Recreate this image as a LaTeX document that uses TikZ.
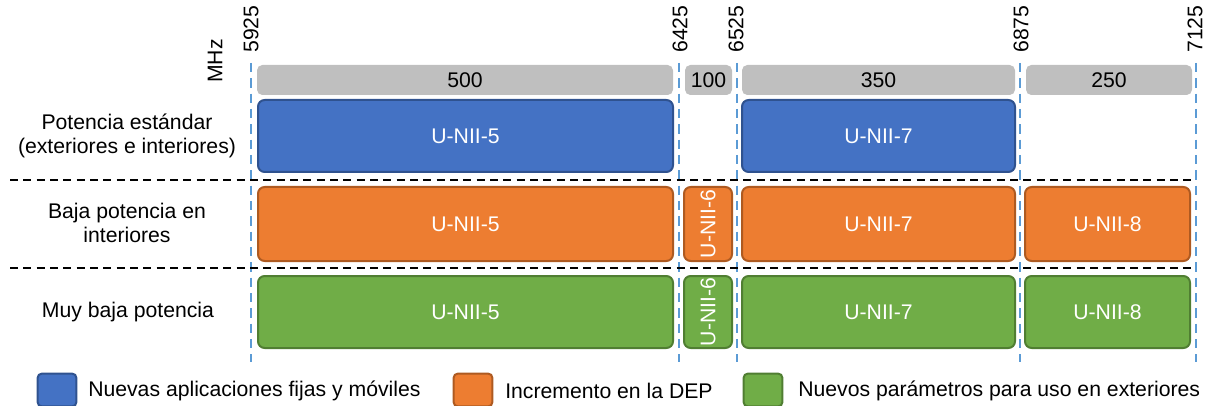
\documentclass[tikz,border=0pt]{standalone}
\usepackage{fontspec}
\setmainfont{Liberation Sans}
\definecolor{bluef}{HTML}{4472C4}
\definecolor{blued}{HTML}{2F528F}
\definecolor{orangef}{HTML}{ED7D31}
\definecolor{oranged}{HTML}{AE5A21}
\definecolor{greenf}{HTML}{70AD47}
\definecolor{greend}{HTML}{507E32}
\definecolor{grayf}{HTML}{BFBFBF}
\definecolor{vblue}{HTML}{5B9BD5}
\newcommand\mybox[7]{\node[#2, minimum width={(#5-#3)*0.75pt}, minimum height={(#6-#4)*0.75pt}] (#1) at ({(#3+#5)/2},{(#4+#6)/2}) {#7};}
\begin{document}
\begin{tikzpicture}[x=0.75pt,y=-0.75pt,
  font=\fontsize{15.9}{18}\selectfont,
  graybar/.style={fill=grayf, rounded corners=4pt, inner sep=0pt},
  cbox/.style={rounded corners=5pt, line width=1.5pt, text=white, inner sep=0pt},
  bluebox/.style={cbox, fill=bluef, draw=blued},
  orangebox/.style={cbox, fill=orangef, draw=oranged},
  greenbox/.style={cbox, fill=greenf, draw=greend},
  vline/.style={draw=vblue, line width=1.6pt, dash pattern=on 7pt off 4.5pt},
  hline/.style={draw=black, line width=1.4pt, dash pattern=on 6pt off 4pt},
  freq/.style={rotate=90, anchor=west, inner sep=0pt},
  rowlab/.style={align=center, inner sep=0pt},
  legsq/.style={rounded corners=3pt, line width=1.5pt, inner sep=0pt, minimum width=29pt, minimum height=24.5pt},
  legtext/.style={anchor=west, inner sep=0pt}
]
\useasboundingbox (0,0) rectangle (1207,406);

% vertical blue dashed lines
\foreach \n/\x in {a/251,b/679,c/737,d/1020,e/1196}{
  \coordinate (vt\n) at (\x,63);
  \coordinate (vb\n) at (\x,362);
  \draw[vline] (vt\n) -- (vb\n);
}

% horizontal separators
\coordinate (h1l) at (10,180); \coordinate (h1r) at (1195,180);
\coordinate (h2l) at (10,268); \coordinate (h2r) at (1195,268);
\draw[hline] (h1l) -- (h1r);
\draw[hline] (h2l) -- (h2r);

% frequency labels
\node[rotate=90] (mhz) at (215,61) {MHz};
\node[freq] (f5925) at (251,53) {5925};
\node[freq] (f6425) at (680,53) {6425};
\node[freq] (f6525) at (736,53) {6525};
\node[freq] (f6875) at (1021,53) {6875};
\node[freq] (f7125) at (1195,53) {7125};

% gray bandwidth bars
\mybox{g500}{graybar}{257}{65}{673}{95}{500}
\mybox{g100}{graybar}{685}{65}{732}{95}{100}
\mybox{g350}{graybar}{742}{65}{1015}{95}{350}
\mybox{g250}{graybar}{1026}{65}{1192}{95}{250}

% row 1
\mybox{r1a}{bluebox}{258}{100}{673}{172}{U-NII-5}
\mybox{r1c}{bluebox}{742}{100}{1015}{172}{U-NII-7}
% row 2
\mybox{r2a}{orangebox}{258}{187}{673}{261}{U-NII-5}
\mybox{r2b}{orangebox}{684}{187}{732}{261}{\rotatebox{90}{U-NII-6}}
\mybox{r2c}{orangebox}{742}{187}{1015}{261}{U-NII-7}
\mybox{r2d}{orangebox}{1025}{187}{1190}{261}{U-NII-8}
% row 3
\mybox{r3a}{greenbox}{258}{276}{673}{348}{U-NII-5}
\mybox{r3b}{greenbox}{684}{276}{732}{348}{\rotatebox{90}{U-NII-6}}
\mybox{r3c}{greenbox}{742}{276}{1015}{348}{U-NII-7}
\mybox{r3d}{greenbox}{1025}{276}{1190}{348}{U-NII-8}

% row labels
\node[rowlab] (l1) at (127,136) {Potencia estándar\\(exteriores e interiores)};
\node[rowlab] (l2) at (127,223) {Baja potencia en\\interiores};
\node[rowlab] (l3) at (128,312) {Muy baja potencia};

% legend
\node[legsq, fill=bluef, draw=blued] (k1) at (57,390) {};
\node[legtext] (t1) at (88,391) {Nuevas aplicaciones fijas y móviles};
\node[legsq, fill=orangef, draw=oranged] (k2) at (473,390) {};
\node[legtext] (t2) at (505,391) {Incremento en la DEP};
\node[legsq, fill=greenf, draw=greend] (k3) at (763,390) {};
\node[legtext] (t3) at (798,391) {Nuevos parámetros para uso en exteriores};
\end{tikzpicture}
\end{document}
